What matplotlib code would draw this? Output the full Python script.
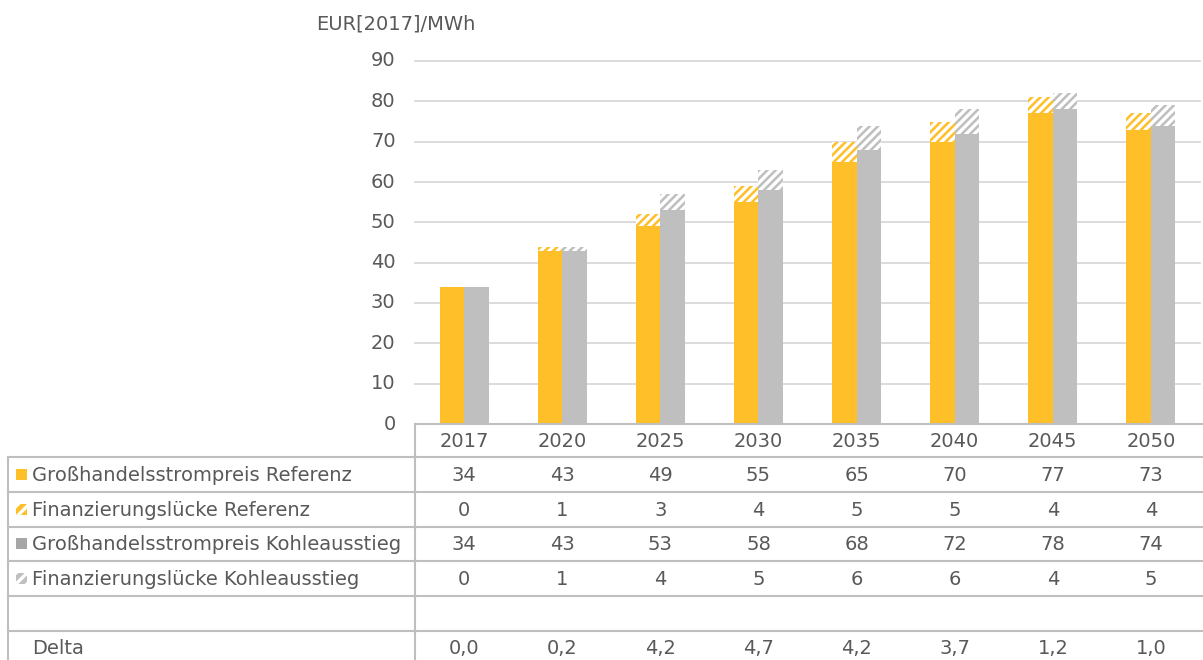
import matplotlib.pyplot as plt
from matplotlib.patches import Rectangle
from matplotlib.lines import Line2D

plt.rcParams['font.family'] = ['DejaVu Sans']
plt.rcParams['hatch.linewidth'] = 2.4

# ---------------- data ----------------
years = ['2017', '2020', '2025', '2030', '2035', '2040', '2045', '2050']
preis_ref = [34, 43, 49, 55, 65, 70, 77, 73]
luecke_ref = [0, 1, 3, 4, 5, 5, 4, 4]
preis_kohle = [34, 43, 53, 58, 68, 72, 78, 74]
luecke_kohle = [0, 1, 4, 5, 6, 6, 4, 5]
delta = [0.0, 0.2, 4.2, 4.7, 4.2, 3.7, 1.2, 1.0]
row_labels = ['Großhandelsstrompreis Referenz', 'Finanzierungslücke Referenz',
              'Großhandelsstrompreis Kohleausstieg', 'Finanzierungslücke Kohleausstieg',
              '', 'Delta']

YELLOW = '#FEBF28'
GRAY = '#BFBFBF'
TXT = '#595959'
LINE = '#BFBFBF'
FS = 14

W, H = 1203, 660
fig = plt.figure(figsize=(W / 100, H / 100), dpi=100)

# axes: x 415..1200 px, y 61 (=90) .. 424 (=0)
ax_l, ax_r, ax_t, ax_b = 415, 1200, 61, 424
ax = fig.add_axes([ax_l / W, 1 - ax_b / H, (ax_r - ax_l) / W, (ax_b - ax_t) / H])

x = list(range(len(years)))
bw = 0.25
xr = [i - bw / 2 for i in x]
xk = [i + bw / 2 for i in x]
ax.bar(xr, preis_ref, width=bw, color=YELLOW, linewidth=0, zorder=3)
ax.bar(xr, luecke_ref, width=bw, bottom=preis_ref, color=YELLOW, edgecolor='white',
       hatch='////', linewidth=0, zorder=3)
ax.bar(xk, preis_kohle, width=bw, color=GRAY, linewidth=0, zorder=3)
ax.bar(xk, luecke_kohle, width=bw, bottom=preis_kohle, color=GRAY, edgecolor='white',
       hatch='////', linewidth=0, zorder=3)

ax.set_xlim(-0.5, len(years) - 0.5)
ax.set_ylim(0, 90)
ax.set_yticks(range(0, 91, 10))
ax.yaxis.grid(True, color='#D9D9D9', lw=1.3, zorder=0)
for gl in ax.get_ygridlines():
    gl.set_clip_on(False)
ax.set_xticks([])
for s in ax.spines.values():
    s.set_visible(False)
ax.tick_params(axis='y', length=0, pad=14, labelsize=FS, labelcolor=TXT)
for lab in ax.get_yticklabels():
    lab.set_va('center')

fig.text(316 / W, 1 - 24 / H, 'EUR[2017]/MWh', fontsize=FS, color=TXT, va='center', ha='left')

# ---------------- table (figure pixel coords) ----------------
def px(xp, yp):
    return xp / W, 1 - yp / H

tbl_left = 8
col_w = (ax_r - ax_l) / len(years)
row_edges = [424, 457, 492, 527, 561, 596, 631, 666]


def hline(y, x0, x1):
    fig.add_artist(Line2D([x0 / W, x1 / W], [1 - y / H, 1 - y / H], color=LINE, lw=1.5))


def vline(xp, y0, y1):
    fig.add_artist(Line2D([xp / W, xp / W], [1 - y0 / H, 1 - y1 / H], color=LINE, lw=1.5))


hline(row_edges[0], ax_l, W)
for y in row_edges[1:-1]:
    hline(y, tbl_left, W)
vline(ax_l, row_edges[0], H)
vline(tbl_left, row_edges[1], H)

# header row: years
yc = (row_edges[0] + row_edges[1]) / 2
for i, yr in enumerate(years):
    fig.text(*px(ax_l + col_w * (i + 0.5), yc + 1), yr, fontsize=FS, color=TXT,
             ha='center', va='center')

rows = [preis_ref, luecke_ref, preis_kohle, luecke_kohle, None,
        [f'{d:.1f}'.replace('.', ',') for d in delta]]
markers = [(YELLOW, None), (YELLOW, '///'), ('#A6A6A6', None), (GRAY, '///'), None, None]

for r, (lab, vals, mk) in enumerate(zip(row_labels, rows, markers)):
    yc = (row_edges[r + 1] + row_edges[r + 2]) / 2
    if r == len(rows) - 1:
        yc = 648
    fig.text(*px(32, yc + 1), lab, fontsize=FS, color=TXT, ha='left', va='center')
    if mk is not None:
        col, hatch = mk
        x0, y0 = px(16, yc + 5)
        fig.add_artist(Rectangle((x0, y0), 11 / W, 11 / H, facecolor=col,
                                 edgecolor='white' if hatch else col, hatch=hatch,
                                 linewidth=0, transform=fig.transFigure))
    if vals is None:
        continue
    for i, v in enumerate(vals):
        fig.text(*px(ax_l + col_w * (i + 0.5), yc + 1), str(v), fontsize=FS, color=TXT,
                 ha='center', va='center')

fig.savefig('out.png', dpi=100)
